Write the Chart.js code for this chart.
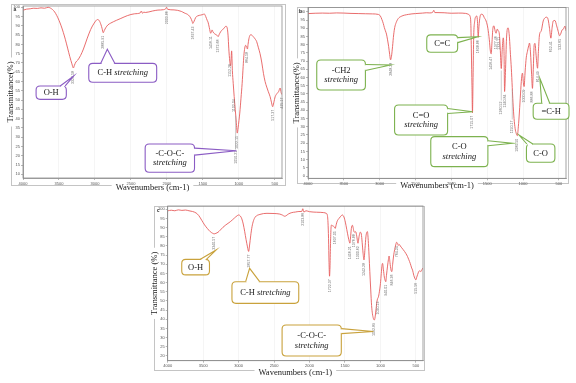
<!DOCTYPE html>
<html><head><meta charset="utf-8">
<script src="https://cdn.jsdelivr.net/npm/chart.js@4.4.1/dist/chart.umd.min.js"></script>
<style>
html,body{margin:0;padding:0;background:#fff;width:576px;height:383px;overflow:hidden;position:relative}
.p{position:absolute}
canvas{display:block}
</style></head><body>
<div class="p" style="left:0;top:0"><canvas id="ca" width="290" height="196"></canvas></div>
<div class="p" style="left:290px;top:0"><canvas id="cb" width="286" height="196"></canvas></div>
<div class="p" style="left:146px;top:200px"><canvas id="cc" width="284" height="183"></canvas></div>
<script>
// ---------------- data ----------------
const X_TICKS = [4000,3500,3000,2500,2000,1500,1000,500];
const Y_TICKS_A = [10,15,20,25,30,35,40,45,50,55,60,65,70,75,80,85,90,95,100];
const Y_TICKS_B = [0,5,10,15,20,25,30,35,40,45,50,55,60,65,70,75,80,85,90,95,100];
const Y_TICKS_C = [20,25,30,35,40,45,50,55,60,65,70,75,80,85,90,95,100];

const waveA = [3995,3950,3900,3850,3800,3750,3700,3650,3620,3590,3560,3530,3500,3470,3440,3410,3380,3350,3320,3300,3285,3265,3240,3200,3160,3110,3060,3010,2965,2940,2915,2900,2885,2870,2850,2820,2780,2700,2640,2550,2450,2370,2355,2340,2320,2300,2200,2125,2050,2015,2005,1990,1900,1800,1760,1700,1670,1650,1640,1625,1600,1570,1530,1500,1480,1460,1440,1428,1410,1391,1380,1372,1360,1350,1320,1300,1288,1275,1265,1240,1210,1180,1165,1150,1140,1126,1115,1108,1100,1090,1078,1065,1050,1035,1022,1010,998,987,970,954,940,930,918,905,890,880,872,860,844,830,800,775,752,730,705,680,658,635,612,590,565,545,530,515,495,470,448,425,412,402];
const transA = [98.5,99.0,99.2,99.5,99.4,99.7,99.5,100,99.6,98.8,97.5,95.5,93,90,86.5,82.5,78,73.5,69.5,67.3,68.8,70.5,71.5,74,77.5,83,88,91.5,93.4,92.8,90.5,88.5,86.3,87.5,89,90.5,91.5,93,94,95.5,96.5,97,98,96.8,97.4,97.2,98,98.5,98.7,99.3,100,98.9,98.6,97.8,97,95.8,94.3,92.5,91.3,92.2,94.5,95.4,95.8,96.1,96.4,95,93,92,89,86,87,87.8,86.8,86.2,85.3,84.8,84.2,85.2,86,87.5,88.5,89.8,89.3,85,78,71,68.5,72,76.5,66,59,52,45,38,32.2,35,39,43,51,59,68,74,78,79.5,78.5,77.5,80,83,85,85.2,84.2,83,81.5,78.5,75,70,64.4,60,57,54.5,51.8,48.5,46.4,48.5,51.8,53.5,54.5,56.5,54,53];

const waveB = [3995,3900,3800,3700,3600,3500,3400,3300,3200,3100,3020,2990,2970,2950,2935,2920,2905,2890,2875,2860,2848,2835,2820,2805,2790,2770,2740,2700,2600,2500,2400,2350,2300,2260,2245,2230,2200,2100,2000,1900,1800,1760,1740,1728,1720,1712,1705,1697,1688,1675,1660,1645,1635,1625,1615,1600,1580,1560,1540,1515,1490,1470,1455,1444,1432,1420,1405,1390,1375,1360,1345,1330,1318,1303,1290,1275,1265,1257,1245,1230,1209,1192,1175,1163,1150,1140,1125,1110,1095,1079,1065,1050,1035,1020,1008,995,985,970,955,938,920,909,895,880,868,855,844,832,820,808,797,785,770,745,718,690,670,650,630,611,595,578,555,530,508,490,475,455,437,414,400];
const transB = [99,99.2,99.3,99.2,99.4,99.3,99.1,99.0,98.9,98.8,98.5,97.5,95.5,93,90.5,88.5,86.5,83,79,74,70.8,73,79,86,90.5,93.5,96,97.3,98.5,99,99.3,99.5,99.4,99.8,101,99.6,99.6,99.5,99.2,99.3,99.1,98.5,97.5,93,75,55,38.5,60,85,94,97,97.5,94,84.5,91,97,98.6,98.3,96.5,94.5,90,83,76,74.5,82,90,91.5,88.5,87,89.5,88.5,86.5,78,65.5,77,84.2,76,51.5,63,84,90.3,86,74,65.7,54,45,35,29,26,24.6,30,39,50,59.6,62.7,57,54.5,64,72,76,79.5,81,75,62,53.4,67,80,80.8,75,69,65.7,76,86,88.5,94.5,96.5,96.8,95.5,90,84,90,94.5,94.8,91.5,88,85.5,86.5,89,89.5,91.4,88.5];

const waveC = [3995,3950,3900,3850,3800,3750,3700,3650,3600,3560,3520,3480,3440,3400,3370,3345,3320,3290,3260,3220,3180,3118,3060,3020,3000,2975,2955,2935,2915,2895,2875,2859,2845,2830,2811,2790,2765,2700,2600,2500,2420,2380,2350,2330,2300,2250,2200,2150,2110,2095,2080,2050,2000,1900,1800,1765,1750,1740,1732,1725,1718,1712,1705,1698,1690,1675,1660,1648,1637,1625,1610,1585,1560,1538,1515,1495,1475,1455,1440,1430,1420,1410,1396,1385,1375,1362,1350,1335,1317,1300,1285,1270,1258,1245,1232,1218,1205,1194,1184,1172,1161,1150,1137,1125,1113,1100,1088,1078,1065,1050,1040,1030,1015,1000,988,978,970,958,945,932,925,915,900,888,878,866,852,840,828,815,800,785,772,760,748,735,720,700,680,660,640,618,600,580,560,547,530,515,500,488,475,460,445,430,415,400];
const transC = [99.2,99.5,99.2,99.7,99.4,99.6,99.2,98.8,98,96.5,94,91.5,89.5,87.8,87,86.6,86.9,87.5,88.6,90.2,91.5,93.2,95.2,96.5,96.9,96.3,94.8,92,88,83.5,79.5,77,80.5,85.5,90.5,93.8,95.8,97.2,97.8,97.7,97.4,96.8,96.2,96.5,97.4,98.2,98.5,98.8,98.8,100.3,98.5,99.2,98.7,98.4,98.2,97.8,97,93,84,71,63.5,68,80,89,91.4,91,90.7,90.3,89.6,91.5,93.5,95,96.2,96.9,95.8,93,89,85,82.5,81.5,85.5,89.5,91.3,90,88,87.5,87.8,85.5,81.5,85.5,87.5,86.5,82,76,72.4,78.5,85,87.3,87.8,83,75,66,56,47.5,43,40.5,39.6,40.5,44.5,49.5,51.3,52,55,59.5,65,69.5,70.5,67,63,61,60.5,64,69,72.5,74.5,71,67,66,70,74.5,78,80.5,82,81.5,80.3,80.8,80,79,78,77,75.8,74.2,72.5,70.5,68,66.8,64,62.3,61.5,63,64.5,66,66.5,66,67,68];

// ---------------- annotations (band assignments / peak labels) ----------------
const peaksA = [[3300,'3323.58',0],[2885,'2885.91',0],[2005,'2003.86',1],[1640,'1637.43',0],[1391,'1456.11',0],[1288,'1372.68',0],[1126,'1152.26',0],[1065,'1102.04',0],[1022,'1022.15',0],[1045,'1050.21',34],[880,'864.58',0],[530,'517.37',0],[402,'425.17',0]];
const peaksB = [[2848,'2848.28',0],[1705,'1715.07',0],[1625,'1638.86',0],[1444,'1456.47',0],[1375,'1377.46',0],[1330,'1322.11',0],[1303,'1260.52',30],[1257,'1240.84',0],[1150,'1150.17',30],[1079,'1080.50',0],[985,'1000.09',0],[868,'886.88',0],[797,'814.49',0],[611,'652.41',0],[490,'532.65',0]];
const peaksC = [[3345,'3340.57',0],[2859,'2857.77',0],[2095,'2103.86',1],[1718,'1722.37',0],[1637,'1637.05',0],[1430,'1456.21',0],[1375,'1376.88',0],[1317,'1300.62',0],[1232,'1242.28',0],[1088,'1092.89',0],[1040,'1030.13',0],[925,'940.01',0],[840,'846.36',0],[760,'764.24',0],[500,'515.56',0]];

const calloutsA = [
  {lines:[[['O-H',0]]], box:[3818,3398,57.6,50.4], tail:{side:'top',at:0.88,half:2.5}, tip:[3296,63]},
  {lines:[[['C-H ',0],['stretching',1]]], box:[3086,2142,69.8,59.6], tail:{side:'top',at:0.28,half:7}, tip:[2828,77.4]},
  {lines:[[['-C-O-C-',0]],[['stretching',1]]], box:[2302,1616,26.3,11.1], tail:{side:'right',at:0.27,half:3.5}, tip:[1032,22.7]}
];
const calloutsB = [
  {lines:[[['-CH2',0]],[['stretching',1]]], box:[3878,3199,70.7,52.4], tail:{side:'right',at:0.25,half:3}, tip:[2848,67.7]},
  {lines:[[['C=C',0]]], box:[2343,1912,86,75.4], tail:{side:'right',at:0.3,half:2.5}, tip:[1631,84.9]},
  {lines:[[['C=O',0]],[['stretching',1]]], box:[2792,2052,43.3,25], tail:{side:'right',at:0.2,half:2.5}, tip:[1701,39.2]},
  {lines:[[['C-O',0]],[['stretching',1]]], box:[2287,1490,24,5.7], tail:{side:'right',at:0.22,half:2.5}, tip:[1149,20]},
  {lines:[[['C-O',0]]], box:[952,555,19.5,8.4], tail:{side:'top',at:0.12,half:3}, tip:[1055,25]},
  {lines:[[['=C-H',0]]], box:[858,358,44.3,34.6], tail:{side:'top',at:0.35,half:4}, tip:[765,59.6]}
];
const calloutsC = [
  {lines:[[['O-H',0]]], box:[3802,3411,72.7,64.2], tail:{side:'top',at:0.78,half:3}, tip:[3317,77.8]},
  {lines:[[['C-H ',0],['stretching',1]]], box:[3094,2152,60.5,48.7], tail:{side:'top',at:0.31,half:7}, tip:[2845,67.8]},
  {lines:[[['-C-O-C-',0]],[['stretching',1]]], box:[2387,1552,36.9,20], tail:{side:'right',at:0.2,half:2.5}, tip:[1099,33.3]}
];

// ---------------- drawing helpers ----------------
const SERIF = '"Liberation Serif","Times New Roman",serif';
const SANS = '"Liberation Sans",Arial,sans-serif';
const TITLE_SIZE = 8.5;
const TITLE_LH = TITLE_SIZE * 1.2;

function interp(w, ws, ts){
  for(let i=0;i<ws.length-1;i++){
    const a=ws[i], b=ws[i+1];
    if(w<=a && w>=b){ const f=(a-w)/(a-b); return ts[i]+(ts[i+1]-ts[i])*f; }
  }
  return ts[ts.length-1];
}

function roundRect(ctx,x,y,w,h,r){
  ctx.beginPath();
  ctx.moveTo(x+r,y); ctx.lineTo(x+w-r,y); ctx.quadraticCurveTo(x+w,y,x+w,y+r);
  ctx.lineTo(x+w,y+h-r); ctx.quadraticCurveTo(x+w,y+h,x+w-r,y+h);
  ctx.lineTo(x+r,y+h); ctx.quadraticCurveTo(x,y+h,x,y+h-r);
  ctx.lineTo(x,y+r); ctx.quadraticCurveTo(x,y,x+r,y); ctx.closePath();
}

function drawCallout(ctx, chart, c, color){
  const xs=chart.scales.x, ys=chart.scales.y;
  const x1=xs.getPixelForValue(c.box[0]), x2=xs.getPixelForValue(c.box[1]);
  const y1=ys.getPixelForValue(c.box[2]), y2=ys.getPixelForValue(c.box[3]);
  const L=Math.min(x1,x2), R=Math.max(x1,x2), T=Math.min(y1,y2), B=Math.max(y1,y2);
  const tx=xs.getPixelForValue(c.tip[0]), ty=ys.getPixelForValue(c.tip[1]);
  const t=c.tail; let b1,b2,cover;
  if(t.side==='top'){ const bx=L+(R-L)*t.at; b1=[bx-t.half,T]; b2=[bx+t.half,T]; cover=[bx-t.half+0.9,T-1,2*t.half-1.8,2.6]; }
  else if(t.side==='right'){ const by=T+(B-T)*t.at; b1=[R,by-t.half]; b2=[R,by+t.half]; cover=[R-1.6,by-t.half+0.9,2.6,2*t.half-1.8]; }
  else { const by=T+(B-T)*t.at; b1=[L,by-t.half]; b2=[L,by+t.half]; cover=[L-1,by-t.half+0.9,2.6,2*t.half-1.8]; }
  ctx.save();
  ctx.lineWidth=1.1; ctx.strokeStyle=color; ctx.fillStyle='#fff';
  roundRect(ctx,L,T,R-L,B-T,4); ctx.fill(); ctx.stroke();
  ctx.beginPath(); ctx.moveTo(b1[0],b1[1]); ctx.lineTo(tx,ty); ctx.lineTo(b2[0],b2[1]); ctx.closePath(); ctx.fill();
  ctx.fillRect(cover[0],cover[1],cover[2],cover[3]);
  ctx.beginPath(); ctx.moveTo(b1[0],b1[1]); ctx.lineTo(tx,ty); ctx.lineTo(b2[0],b2[1]); ctx.stroke();
  // text
  const lh=9.6, n=c.lines.length, cx=(L+R)/2, cy=(T+B)/2;
  ctx.fillStyle='#1a1a1a'; ctx.textBaseline='middle'; ctx.textAlign='left';
  c.lines.forEach((line,i)=>{
    const y=cy+(i-(n-1)/2)*lh+0.3;
    const ws=line.map(([s,it])=>{ctx.font=(it?'italic ':'')+'8.5px '+SERIF; return ctx.measureText(s).width;});
    let x=cx-ws.reduce((a,b)=>a+b,0)/2;
    line.forEach(([s,it],j)=>{ctx.font=(it?'italic ':'')+'8.5px '+SERIF; ctx.fillText(s,x,y); x+=ws[j];});
  });
  ctx.restore();
}

const deco = {
  id:'deco',
  beforeDraw(chart, args, o){
    const ctx=chart.ctx, ca=chart.chartArea, xs=chart.scales.x, ys=chart.scales.y;
    ctx.save();
    ctx.fillStyle='#fff'; ctx.fillRect(0,0,chart.width,chart.height);
    const yTitleX = ys.left + TITLE_LH/2 + o.yTitlePad;
    const xTitleY = xs.bottom - TITLE_LH/2 - o.xTitlePad;
    const fl=yTitleX, ft=o.frameTop, fr=o.frameRight, fb=xTitleY-3.5;
    ctx.strokeStyle='#c4c4c4'; ctx.lineWidth=1;
    ctx.strokeRect(Math.round(fl)+0.5, Math.round(ft)+0.5, Math.round(fr-fl), Math.round(fb-ft));
    // gaps under axis titles
    ctx.font=TITLE_SIZE+'px '+SERIF;
    const wx=ctx.measureText(o.xTitle).width+8, wy=ctx.measureText(o.yTitle).width+8;
    ctx.fillStyle='#fff';
    ctx.fillRect((xs.left+xs.right)/2-wx/2, fb-2, wx, 12);
    ctx.fillRect(yTitleX-5, (ys.top+ys.bottom)/2-wy/2, 10, wy);
    // panel letter
    ctx.fillStyle='#333'; ctx.font='bold 5px '+SANS; ctx.textBaseline='top'; ctx.textAlign='left';
    ctx.fillText(o.letter, fl+2.5, ft+3);
    ctx.restore();
  },
  afterDatasetsDraw(chart, args, o){
    const ctx=chart.ctx, ca=chart.chartArea, xs=chart.scales.x, ys=chart.scales.y;
    ctx.save();
    // plot box
    ctx.strokeStyle='#8c8c8c'; ctx.lineWidth=0.8;
    ctx.strokeRect(ca.left, ca.top, ca.right-ca.left, ca.bottom-ca.top);
    // peak labels
    ctx.font='3.6px '+SANS; ctx.fillStyle='#6e6e6e'; ctx.strokeStyle='#9a9a9a'; ctx.lineWidth=0.5;
    o.peaks.forEach(([w,label,lead])=>{
      const px=xs.getPixelForValue(w), py=ys.getPixelForValue(interp(w,o.wave,o.trans))+2;
      if(lead>2){ ctx.beginPath(); ctx.moveTo(px,py); ctx.lineTo(px,py+lead); ctx.stroke(); }
      ctx.save(); ctx.translate(px, py+lead+1); ctx.rotate(-Math.PI/2);
      ctx.textAlign='right'; ctx.textBaseline='middle'; ctx.fillText(label,0,0); ctx.restore();
    });
    // callouts
    o.callouts.forEach(c=>drawCallout(ctx, chart, c, o.color));
    ctx.restore();
  }
};

function makeChart(id, cfg){
  const data = cfg.wave.map((w,i)=>({x:w, y:cfg.trans[i]}));
  return new Chart(document.getElementById(id), {
    type:'line',
    data:{datasets:[{data, borderColor:'#e65c5c', borderWidth:0.9, pointRadius:0, cubicInterpolationMode:'monotone', fill:false}]},
    options:{
      responsive:false, animation:false, devicePixelRatio:1, events:[],
      layout:{padding:cfg.padding},
      plugins:{legend:{display:false}, tooltip:{enabled:false}, deco:cfg.deco},
      scales:{
        x:{type:'linear', reverse:true, min:400, max:4000,
          afterBuildTicks:s=>{s.ticks=X_TICKS.map(v=>({value:v}));},
          afterFit:s=>{s.height=cfg.xHeight;},
          ticks:{font:{size:4, family:SANS}, color:'#555', padding:1, maxRotation:0, autoSkip:false, callback:v=>String(v)},
          grid:{color:'rgba(0,0,0,0.07)', lineWidth:0.6, tickColor:'#888', tickLength:2},
          border:{color:'#8c8c8c', width:0.8},
          title:{display:true, text:cfg.deco.xTitle, font:{size:TITLE_SIZE, family:SERIF}, color:'#1a1a1a', padding:{top:0, bottom:cfg.deco.xTitlePad}}
        },
        y:{type:'linear', min:cfg.yMin, max:cfg.yMax,
          afterBuildTicks:s=>{s.ticks=cfg.yTicks.map(v=>({value:v}));},
          afterFit:s=>{s.width=cfg.yWidth;},
          ticks:{font:{size:4, family:SANS}, color:'#555', padding:1, autoSkip:false, callback:v=>String(v)},
          grid:{drawOnChartArea:false, tickColor:'#888', tickLength:2, lineWidth:0.6},
          border:{color:'#8c8c8c', width:0.8},
          title:{display:true, text:cfg.deco.yTitle, font:{size:TITLE_SIZE, family:SERIF}, color:'#1a1a1a', padding:{top:cfg.deco.yTitlePad, bottom:0}}
        }
      }
    },
    plugins:[deco]
  });
}

makeChart('ca', {wave:waveA, trans:transA, yMin:8, yMax:100.7, yTicks:Y_TICKS_A,
  padding:{left:0, top:6, right:8, bottom:0}, yWidth:23, xHeight:18,
  deco:{letter:'a', xTitle:'Wavenumbers (cm-1)', yTitle:'Transmittance(%)', xTitlePad:2.9, yTitlePad:5.9,
    frameTop:4, frameRight:284.5, color:'#8b5cc4', peaks:peaksA, callouts:calloutsA, wave:waveA, trans:transA}});

makeChart('cb', {wave:waveB, trans:transB, yMin:-1.4, yMax:102.7, yTicks:Y_TICKS_B,
  padding:{left:0, top:7.5, right:10, bottom:0}, yWidth:18, xHeight:17.7,
  deco:{letter:'b', xTitle:'Wavenumbers (cm-1)', yTitle:'Transmittance(%)', xTitlePad:5.2, yTitlePad:1.4,
    frameTop:6.5, frameRight:277, color:'#7db24f', peaks:peaksB, callouts:calloutsB, wave:waveB, trans:transB}});

makeChart('cc', {wave:waveC, trans:transC, yMin:17.4, yMax:101.8, yTicks:Y_TICKS_C,
  padding:{left:0, top:6, right:7, bottom:0}, yWidth:21.7, xHeight:22.3,
  deco:{letter:'c', xTitle:'Wavenumbers (cm-1)', yTitle:'Transmittance (%)', xTitlePad:5.2, yTitlePad:3.2,
    frameTop:5.5, frameRight:278.5, color:'#c9a23c', peaks:peaksC, callouts:calloutsC, wave:waveC, trans:transC}});
</script>
</body></html>
